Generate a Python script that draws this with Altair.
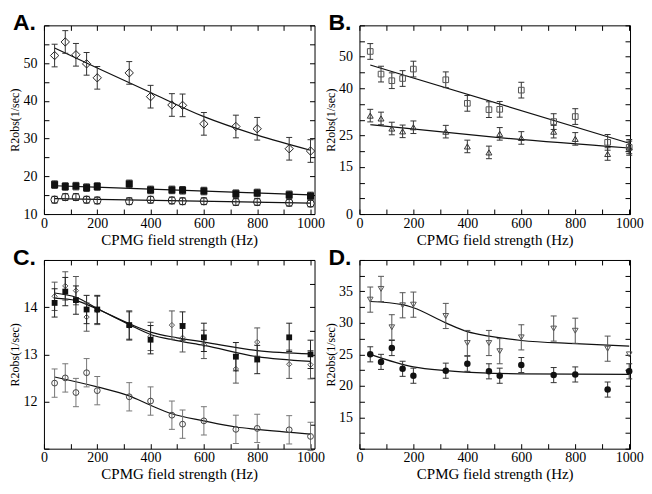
import altair as alt
import pandas as pd

# ---------------- data ----------------
FREQ = [40, 80, 120, 160, 200, 320, 400, 480, 520, 600, 720, 800, 920, 1000]

# Panel A
A_DIAMOND = [52.0, 55.6, 52.2, 49.8, 46.1, 47.4, 41.1, 38.9, 38.8, 33.9, 33.2, 32.6, 27.3, 26.7]
A_DIAMOND_ERR = [3.0, 3.0, 3.0, 3.0, 3.0, 3.0, 3.0, 3.0, 3.0, 3.0, 3.0, 3.0, 3.0, 3.0]
A_SQUARE = [17.8, 17.3, 17.4, 17.0, 17.3, 18.0, 16.4, 16.4, 16.3, 16.1, 15.4, 15.6, 15.1, 14.8]
A_SQUARE_ERR = [1.0, 1.0, 1.0, 1.0, 1.0, 1.0, 1.0, 1.0, 1.0, 1.0, 1.0, 1.0, 1.0, 1.0]
A_CIRCLE = [13.8, 14.5, 14.5, 13.8, 13.6, 13.4, 13.8, 13.6, 13.4, 13.4, 13.2, 13.2, 13.0, 12.8]
A_CIRCLE_ERR = [0.9, 0.9, 0.9, 0.9, 0.9, 0.9, 0.9, 0.9, 0.9, 0.9, 0.9, 0.9, 0.9, 0.9]
A_FIT_DIAMOND_X = [40, 200, 400, 600, 800, 1000]
A_FIT_DIAMOND_Y = [54.0, 48.7, 42.2, 35.8, 30.9, 26.9]
A_FIT_SQUARE_X = [40, 400, 1000]
A_FIT_SQUARE_Y = [17.5, 16.6, 15.1]
A_FIT_CIRCLE_X = [40, 1000]
A_FIT_CIRCLE_Y = [14.1, 12.9]

# Panel B
B_SQUARE = [51.7, 44.5, 42.4, 43.1, 46.1, 42.7, 35.2, 33.2, 33.3, 39.4, 29.4, 31.0, 22.8, 21.2]
B_SQUARE_ERR = [2.5, 2.5, 2.5, 2.5, 2.5, 2.5, 2.5, 2.5, 2.5, 2.5, 2.5, 2.5, 2.5, 2.5]
B_TRIANGLE = [31.3, 30.4, 27.2, 26.3, 27.6, 26.2, 21.5, 19.6, 25.5, 24.2, 26.2, 23.9, 19.1, 21.2]
B_TRIANGLE_ERR = [2.0, 2.0, 2.0, 2.0, 2.0, 2.0, 2.0, 2.0, 2.0, 2.0, 2.0, 2.0, 2.0, 2.0]
B_FIT_SQUARE_X = [40, 1000]
B_FIT_SQUARE_Y = [47.4, 22.5]
B_FIT_TRIANGLE_X = [40, 480, 1000]
B_FIT_TRIANGLE_Y = [28.4, 24.6, 21.0]

# Panel C
C_DIAMOND = [14.23, 14.45, 14.35, 13.79, 13.93, 13.60, 13.38, 13.62, 13.35, 13.21, 12.69, 13.26, 12.79, 12.78]
C_DIAMOND_ERR = [0.3, 0.3, 0.3, 0.3, 0.3, 0.3, 0.3, 0.3, 0.3, 0.3, 0.3, 0.3, 0.3, 0.3]
C_SQUARE_X = [40, 80, 120, 160, 200, 320, 400, 520, 600, 720, 800, 920, 1000]
C_SQUARE = [14.09, 14.33, 14.15, 13.95, 13.95, 13.62, 13.31, 13.60, 13.36, 12.95, 12.89, 13.36, 13.00]
C_SQUARE_ERR = [0.3, 0.3, 0.3, 0.3, 0.3, 0.3, 0.3, 0.3, 0.3, 0.3, 0.3, 0.3, 0.3]
C_CIRCLE = [12.39, 12.50, 12.19, 12.61, 12.23, 12.10, 12.01, 11.71, 11.52, 11.59, 11.41, 11.43, 11.40, 11.26]
C_CIRCLE_ERR = [0.3, 0.3, 0.3, 0.3, 0.3, 0.3, 0.3, 0.3, 0.3, 0.3, 0.3, 0.3, 0.3, 0.3]
C_FIT_X = [40, 120, 200, 320, 400, 500, 600, 800, 1000]
C_FIT_SQUARE_Y = [14.19, 14.14, 13.96, 13.65, 13.47, 13.35, 13.26, 13.08, 13.01]
C_FIT_DIAMOND_Y = [14.30, 14.21, 13.97, 13.63, 13.42, 13.29, 13.19, 12.95, 12.85]
C_FIT_CIRCLE_X = [40, 200, 320, 400, 480, 600, 720, 800, 1000]
C_FIT_CIRCLE_Y = [12.52, 12.31, 12.12, 11.92, 11.74, 11.59, 11.46, 11.41, 11.31]

# Panel D
D_TRIANGLE = [33.7, 35.4, 29.3, 32.8, 32.9, 31.1, 26.8, 26.8, 25.5, 27.7, 29.1, 28.75, 25.9, 25.0]
D_TRIANGLE_ERR = [2.0, 2.0, 2.0, 2.0, 2.0, 2.0, 2.0, 2.0, 2.0, 2.0, 2.0, 2.0, 2.0, 0.0]
D_CIRCLE = [25.0, 23.8, 26.0, 22.7, 21.6, 22.4, 23.5, 22.3, 21.6, 23.3, 21.7, 21.8, 19.4, 22.3]
D_CIRCLE_ERR = [1.2, 1.2, 1.2, 1.2, 1.2, 1.2, 1.2, 1.2, 1.2, 1.2, 1.2, 1.2, 1.2, 1.2]
D_FIT_TRIANGLE_X = [40, 160, 200, 320, 400, 480, 600, 800, 1000]
D_FIT_TRIANGLE_Y = [33.4, 32.9, 32.4, 30.0, 28.6, 27.9, 27.2, 26.7, 26.3]
D_FIT_CIRCLE_X = [40, 200, 320, 480, 600, 1000]
D_FIT_CIRCLE_Y = [25.0, 23.0, 22.4, 22.0, 21.9, 21.8]

X_TICKS = [0, 100, 200, 300, 400, 500, 600, 700, 800, 900, 1000]
XTITLE = "CPMG field strength (Hz)"
YTITLE = "R2obs(1/sec)"
SERIF = "Liberation Serif"

W, H = 271, 189


def left_axis(values, label_expr):
    return alt.Axis(orient="left", values=values, labelExpr=label_expr, format="d", tickSize=5, offset=-5,
                    domain=False, grid=False, labelPadding=7, labelFlush=False, labelOverlap=False,
                    title=YTITLE, titlePadding=1, tickColor="black", labelColor="black",
                    titleColor="black", labelFont=SERIF, labelFontSize=14, titleFont=SERIF,
                    titleFontSize=12, titleFontWeight="normal")


def bottom_axis():
    return alt.Axis(orient="bottom", values=X_TICKS, format="d",
                    labelExpr="datum.value % 200 == 0 ? datum.label : ''",
                    tickSize=5, offset=-5, domain=False, grid=False, labelPadding=2,
                    labelFlush=False, labelOverlap=False, title=XTITLE, titlePadding=2,
                    tickColor="black", labelColor="black", titleColor="black",
                    labelFont=SERIF, labelFontSize=14, titleFont=SERIF,
                    titleFontSize=15, titleFontWeight="normal")


def top_axis():
    return alt.Axis(orient="top", values=X_TICKS, labels=False, tickSize=5, offset=-5,
                    domain=False, grid=False, title=None, tickColor="black")


def right_axis(values):
    return alt.Axis(orient="right", values=values, labels=False, tickSize=5, offset=-5,
                    domain=False, grid=False, title=None, tickColor="black")


def panel(letter, xdom, ydom, yvalues, ylabel_expr, fits, series):
    xsc = alt.Scale(domain=xdom, nice=False, zero=False)
    ysc = alt.Scale(domain=ydom, nice=False, zero=False)
    layers = []
    # fit curves
    for i, (fx, fy) in enumerate(fits):
        df = pd.DataFrame({"x": fx, "y": fy})
        if i == 0:
            xa, ya = bottom_axis(), left_axis(yvalues, ylabel_expr)
        elif i == 1:
            xa, ya = top_axis(), right_axis(yvalues)
        else:
            xa, ya = None, None
        layers.append(
            alt.Chart(df).mark_line(color="#111111", strokeWidth=1.2, interpolate="monotone")
            .encode(x=alt.X("x:Q", scale=xsc, axis=xa), y=alt.Y("y:Q", scale=ysc, axis=ya))
        )
    # series: error bars + symbols
    for s in series:
        xs, ys, errs = s["x"], s["y"], s["err"]
        rows = [{"x": a, "y": b, "lo": b - e, "hi": b + e} for a, b, e in zip(xs, ys, errs) if e > 0]
        edf = pd.DataFrame(rows)
        pdf = pd.DataFrame({"x": xs, "y": ys})
        layers.append(
            alt.Chart(edf).mark_rule(color=s["bar"], strokeWidth=1)
            .encode(x=alt.X("x:Q", scale=xsc, axis=None),
                    y=alt.Y("lo:Q", scale=ysc, axis=None), y2="hi:Q")
        )
        for fld in ["lo", "hi"]:
            layers.append(
                alt.Chart(edf).mark_tick(orient="horizontal", size=6, thickness=1, color=s["bar"], opacity=1)
                .encode(x=alt.X("x:Q", scale=xsc, axis=None),
                        y=alt.Y(f"{fld}:Q", scale=ysc, axis=None))
            )
        layers.append(
            alt.Chart(pdf).mark_point(shape=s["shape"], filled=s["filled"], size=s["size"],
                                      color=s["color"], strokeWidth=1, opacity=1)
            .encode(x=alt.X("x:Q", scale=xsc, axis=None), y=alt.Y("y:Q", scale=ysc, axis=None))
        )
    # panel letter
    layers.append(
        alt.Chart(pd.DataFrame({"t": [letter]})).mark_text(
            font="Liberation Sans", fontSize=23, fontWeight="bold", align="left",
            baseline="top", color="black")
        .encode(x=alt.value(-31), y=alt.value(-13), text="t:N")
    )
    return alt.layer(*layers).resolve_axis(x="independent", y="independent").properties(width=W, height=H)


pA = panel(
    "A.", [0, 1015], [10, 60], list(range(10, 61, 5)),
    "datum.value % 10 == 0 && datum.value < 60 ? datum.label : ''",
    [(A_FIT_DIAMOND_X, A_FIT_DIAMOND_Y), (A_FIT_SQUARE_X, A_FIT_SQUARE_Y), (A_FIT_CIRCLE_X, A_FIT_CIRCLE_Y)],
    [
        dict(x=FREQ, y=A_DIAMOND, err=A_DIAMOND_ERR, shape="diamond", filled=False, size=70, color="#222222", bar="#333333"),
        dict(x=FREQ, y=A_SQUARE, err=A_SQUARE_ERR, shape="square", filled=True, size=50, color="#111111", bar="#333333"),
        dict(x=FREQ, y=A_CIRCLE, err=A_CIRCLE_ERR, shape="circle", filled=False, size=55, color="#222222", bar="#333333"),
    ],
)

pB = panel(
    "B.", [0, 1003], [0, 60], list(range(0, 61, 5)),
    "indexof([0, 15, 25, 40, 50], datum.value) >= 0 ? datum.label : ''",
    [(B_FIT_SQUARE_X, B_FIT_SQUARE_Y), (B_FIT_TRIANGLE_X, B_FIT_TRIANGLE_Y)],
    [
        dict(x=FREQ, y=B_SQUARE, err=B_SQUARE_ERR, shape="square", filled=False, size=32, color="#555555", bar="#333333"),
        dict(x=FREQ, y=B_TRIANGLE, err=B_TRIANGLE_ERR, shape="triangle-up", filled=False, size=35, color="#333333", bar="#333333"),
    ],
)

pC = panel(
    "C.", [0, 1015], [11, 15], [11, 11.5, 12, 12.5, 13, 13.5, 14, 14.5, 15],
    "indexof([12, 13, 14], datum.value) >= 0 ? datum.label : ''",
    [(C_FIT_X, C_FIT_SQUARE_Y), (C_FIT_X, C_FIT_DIAMOND_Y), (C_FIT_CIRCLE_X, C_FIT_CIRCLE_Y)],
    [
        dict(x=FREQ, y=C_DIAMOND, err=C_DIAMOND_ERR, shape="diamond", filled=False, size=28, color="#555555", bar="#555555"),
        dict(x=FREQ, y=C_CIRCLE, err=C_CIRCLE_ERR, shape="circle", filled=False, size=34, color="#444444", bar="#777777"),
        dict(x=C_SQUARE_X, y=C_SQUARE, err=C_SQUARE_ERR, shape="square", filled=True, size=34, color="#111111", bar="#222222"),
    ],
)

pD = panel(
    "D.", [0, 1003], [10, 40], [10, 12.5, 15, 17.5, 20, 22.5, 25, 27.5, 30, 32.5, 35, 37.5, 40],
    "datum.value % 5 == 0 && datum.value > 10 && datum.value < 40 ? datum.label : ''",
    [(D_FIT_TRIANGLE_X, D_FIT_TRIANGLE_Y), (D_FIT_CIRCLE_X, D_FIT_CIRCLE_Y)],
    [
        dict(x=FREQ, y=D_TRIANGLE, err=D_TRIANGLE_ERR, shape="triangle-down", filled=False, size=32, color="#555555", bar="#555555"),
        dict(x=FREQ, y=D_CIRCLE, err=D_CIRCLE_ERR, shape="circle", filled=True, size=42, color="#111111", bar="#333333"),
    ],
)

chart = alt.concat(pA, pB, pC, pD, columns=2, spacing={"row": 46, "column": 45}, bounds="flush").properties(
    padding={"left": 0, "top": 3, "right": 0, "bottom": 0},
    background="white"
).configure_view(
    stroke="black", strokeWidth=1
)

chart.save("out.html", embed_options={"renderer": "svg", "actions": False})
